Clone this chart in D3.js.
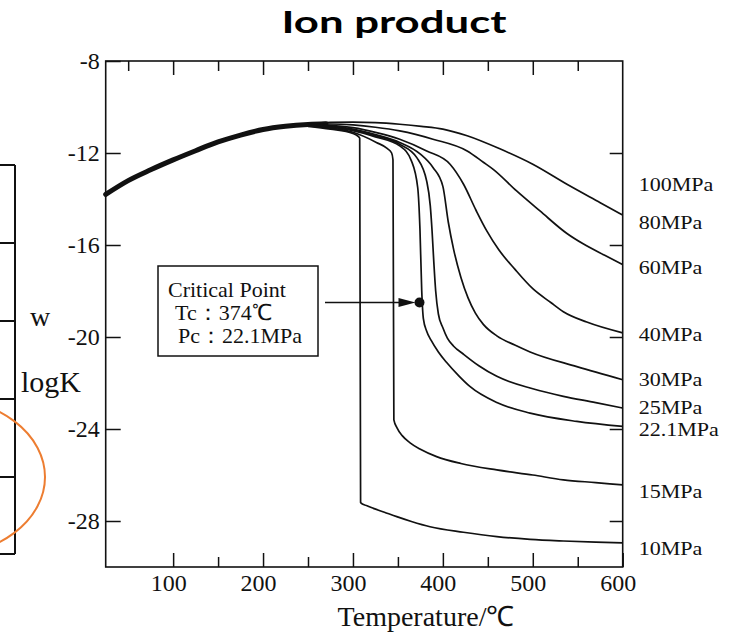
<!DOCTYPE html>
<html>
<head>
<meta charset="utf-8">
<script src="https://cdn.jsdelivr.net/npm/d3@7/dist/d3.min.js"></script>
<style>
  html, body { margin: 0; padding: 0; background: #fff; }
  svg { display: block; }
</style>
</head>
<body>
<svg id="chart" width="731" height="637"></svg>
<script>
// ---- data: log Kw of water vs temperature (°C) at several pressures ----

// low-temperature branch, common to every pressure
const sharedT    = [25, 50, 75, 100, 125, 150, 175, 200, 225, 250, 270];
const sharedLogK = [-13.8, -13.2, -12.73, -12.3, -11.9, -11.52, -11.22, -10.98, -10.84, -10.76, -10.73];

const t100 = [250, 275, 300, 325, 352, 376, 400, 427, 464, 500, 538, 575, 600];
const k100 = [-10.74, -10.67, -10.66, -10.68, -10.75, -10.84, -10.96, -11.25, -11.83, -12.49, -13.36, -14.16, -14.7];

const t60 = [250, 275, 300, 325, 352, 389, 427, 445, 456, 482, 508, 538, 556, 580, 600];
const k60 = [-10.76, -10.74, -10.78, -10.88, -11.04, -11.4, -11.91, -12.4, -12.71, -13.65, -14.52, -15.5, -15.95, -16.45, -16.85];

const t40 = [250, 275, 300, 325, 352, 382, 408, 423, 437, 449, 462, 480, 500, 520, 534, 560, 600];
const k40 = [-10.77, -10.8, -10.9, -11.1, -11.4, -11.91, -12.49, -13.36, -14.5, -15.4, -16.2, -17.05, -17.9, -18.5, -18.9, -19.35, -19.82];

const t30 = [250, 275, 300, 325, 352, 375, 389, 400, 406, 412, 420, 428, 436, 445, 460, 480, 497, 549, 600];
const k30 = [-10.78, -10.83, -10.96, -11.2, -11.54, -12.05, -12.63, -13.45, -15.0, -16.2, -17.4, -18.3, -18.95, -19.45, -19.95, -20.35, -20.65, -21.29, -21.86];

const t25 = [250, 275, 300, 325, 352, 371, 382, 386, 388, 390, 392, 395, 400, 405, 412, 423, 440, 460, 500, 534, 570, 600];
const k25 = [-10.79, -10.86, -11.0, -11.25, -11.62, -12.2, -13.22, -14.3, -15.4, -16.8, -18.0, -19.0, -19.6, -20.05, -20.4, -20.75, -21.25, -21.71, -22.25, -22.58, -22.85, -23.09];

const t221 = [250, 275, 300, 325, 352, 365, 372, 374.5, 376.5, 378.3, 382, 387, 395, 404, 418, 430, 460, 497, 549, 600];
const k221 = [-10.8, -10.88, -11.03, -11.3, -11.69, -12.34, -13.5, -15.3, -18.0, -19.2, -19.75, -20.15, -20.65, -21.1, -21.7, -22.15, -22.85, -23.31, -23.67, -23.89];

const t15 = [250, 275, 300, 326, 338, 343, 344.5, 345.5, 349, 355, 363.5, 375, 393, 420, 460, 500, 534, 570, 600];
const k15 = [-10.82, -10.92, -11.1, -11.54, -11.8, -12.0, -12.3, -23.6, -23.95, -24.3, -24.6, -24.88, -25.2, -25.5, -25.78, -26.0, -26.21, -26.33, -26.43];

const t10 = [250, 275, 300, 305, 307.5, 308.5, 315, 322.7, 335, 348.7, 365, 385.7, 422.8, 460, 497, 534, 570, 600];
const k10 = [-10.84, -10.96, -11.15, -11.25, -11.35, -27.2, -27.33, -27.45, -27.62, -27.81, -28.02, -28.25, -28.49, -28.68, -28.8, -28.87, -28.92, -28.95];

// right-hand pressure labels and the log K level each one sits at
const labelNames = ["100MPa", "80MPa", "60MPa", "40MPa", "30MPa", "25MPa", "22.1MPa", "15MPa", "10MPa"];
const labelLogK  = [-13.36, -15.03, -16.99, -19.9, -21.86, -23.05, -24.0, -26.72, -29.19];

// critical point of water
const criticalT = 374;
const criticalP = 22.1;
const criticalLogK = -18.5;

// axis ticks
const yTicks = [-8, -12, -16, -20, -24, -28];
const xLabelTicks = [100, 200, 300, 400, 500, 600];
const xMinorTicks = [150, 250, 350, 450, 550];
const xTopMajor = [100, 200, 300, 400, 500];
const xTopMinor = [50, 150, 250, 350, 450, 550];

// ---- drawing ----
const ink = "#111";
const serif = "'Liberation Serif', 'Times New Roman', serif";
const svg = d3.select("#chart");

const x = d3.scaleLinear().domain([25, 600]).range([105.7, 622.7]);
const y = d3.scaleLinear().domain([-30, -8]).range([567, 61]);
const [x0, x1] = x.range();
const [yb, yt] = y.range();

// title
svg.append("text")
  .attr("x", 394).attr("y", 33)
  .attr("text-anchor", "middle")
  .attr("font-family", "Lato, 'Open Sans', sans-serif")
  .attr("font-weight", 700)
  .attr("font-size", 30)
  .attr("textLength", 225)
  .attr("lengthAdjust", "spacingAndGlyphs")
  .attr("fill", "#000")
  .text("Ion product");

// neighbouring table edge and highlight at the left margin
const side = svg.append("g");
side.append("line").attr("x1", 15).attr("x2", 15).attr("y1", 165).attr("y2", 554)
  .attr("stroke", ink).attr("stroke-width", 2);
[165, 243, 321, 399, 477, 554].forEach(v => {
  side.append("line").attr("x1", 0).attr("x2", 15).attr("y1", v).attr("y2", v)
    .attr("stroke", ink).attr("stroke-width", 2);
});
side.append("ellipse")
  .attr("cx", -60).attr("cy", 477).attr("rx", 105).attr("ry", 79)
  .attr("fill", "none").attr("stroke", "#ED7D31").attr("stroke-width", 2);

// y-axis caption (log Kw)
svg.append("text").attr("x", 30).attr("y", 326)
  .attr("font-family", serif).attr("font-size", 28).attr("fill", ink).text("w");
svg.append("text").attr("x", 21).attr("y", 392)
  .attr("font-family", serif).attr("font-size", 30).attr("fill", ink).text("logK");

// frame
svg.append("rect")
  .attr("x", x0).attr("y", yt).attr("width", x1 - x0).attr("height", yb - yt)
  .attr("fill", "none").attr("stroke", ink).attr("stroke-width", 1.6);

function styleAxis(g, size) {
  g.select(".domain").remove();
  g.selectAll(".tick line").attr("stroke", ink).attr("stroke-width", 1.5);
  g.selectAll(".tick text").attr("fill", ink).attr("font-family", serif).attr("font-size", size);
  return g;
}
const noLabel = () => "";

// left axis with labels
styleAxis(svg.append("g").attr("transform", `translate(${x0},0)`)
  .call(d3.axisLeft(y).tickValues(yTicks).tickSize(-15).tickPadding(6).tickFormat(d => String(d))), 24);

// right axis ticks
styleAxis(svg.append("g").attr("transform", `translate(${x1},0)`)
  .call(d3.axisRight(y).tickValues(yTicks.slice(1)).tickSize(-13).tickFormat(noLabel)), 24);

// bottom axis with labels, plus minor ticks
const bottom = styleAxis(svg.append("g").attr("transform", `translate(0,${yb})`)
  .call(d3.axisBottom(x).tickValues(xLabelTicks).tickSize(-14).tickPadding(7).tickFormat(d => String(d))), 24);
bottom.selectAll(".tick text").attr("dx", -5);
styleAxis(svg.append("g").attr("transform", `translate(0,${yb})`)
  .call(d3.axisBottom(x).tickValues(xMinorTicks).tickSize(-10).tickFormat(noLabel)), 24);

// top axis ticks
styleAxis(svg.append("g").attr("transform", `translate(0,${yt})`)
  .call(d3.axisTop(x).tickValues(xTopMajor).tickSize(-14).tickFormat(noLabel)), 24);
styleAxis(svg.append("g").attr("transform", `translate(0,${yt})`)
  .call(d3.axisTop(x).tickValues(xTopMinor).tickSize(-10).tickFormat(noLabel)), 24);

// x-axis caption
svg.append("text").attr("x", 426).attr("y", 626)
  .attr("text-anchor", "middle")
  .attr("font-family", serif).attr("font-size", 28).attr("fill", ink)
  .text("Temperature/℃");

// curves
const line = d3.line()
  .x(d => x(d[0]))
  .y(d => y(d[1]))
  .curve(d3.curveMonotoneX);

const zipSeries = (ts, ks) => ts.map((t, i) => [t, ks[i]]);

const series = [
  zipSeries(t100, k100),
  zipSeries(t60, k60),
  zipSeries(t40, k40),
  zipSeries(t30, k30),
  zipSeries(t25, k25),
  zipSeries(t221, k221),
  zipSeries(t15, k15),
  zipSeries(t10, k10)
];

const plot = svg.append("g");

plot.append("path")
  .datum(zipSeries(sharedT, sharedLogK))
  .attr("d", line)
  .attr("fill", "none").attr("stroke", ink)
  .attr("stroke-width", 5).attr("stroke-linecap", "round");

plot.selectAll("path.isobar")
  .data(series)
  .join("path")
  .attr("class", "isobar")
  .attr("d", line)
  .attr("fill", "none").attr("stroke", ink)
  .attr("stroke-width", 1.7).attr("stroke-linejoin", "round");

// pressure labels, set slightly wide like the printed figure
svg.append("g").selectAll("text")
  .data(labelNames)
  .join("text")
  .attr("x", x1 + 16)
  .attr("y", (d, i) => y(labelLogK[i]))
  .attr("dy", "0.35em")
  .attr("font-family", serif).attr("font-size", 19).attr("fill", ink)
  .text(d => d)
  .each(function () {
    const w = this.getComputedTextLength();
    d3.select(this).attr("textLength", w * 1.16).attr("lengthAdjust", "spacingAndGlyphs");
  });

// critical point annotation
const note = svg.append("g");
note.append("rect")
  .attr("x", 158).attr("y", 266).attr("width", 160).attr("height", 90)
  .attr("fill", "#fff").attr("stroke", ink).attr("stroke-width", 1.5);
const noteLines = ["Critical Point", `Tc：${criticalT}℃`, `Pc：${criticalP}MPa`];
const noteX = [168, 175, 178];
note.selectAll("text.note")
  .data(noteLines)
  .join("text")
  .attr("class", "note")
  .attr("x", (d, i) => noteX[i])
  .attr("y", (d, i) => 297 + i * 23)
  .attr("font-family", serif).attr("font-size", 22).attr("fill", ink)
  .text(d => d);

const cx = x(criticalT), cy = y(criticalLogK);
const dotR = 5;
note.append("line")
  .attr("x1", 325).attr("x2", cx - dotR - 10)
  .attr("y1", cy).attr("y2", cy)
  .attr("stroke", ink).attr("stroke-width", 1.5);
note.append("path")
  .attr("d", `M${cx - dotR - 16},${cy - 4.5} L${cx - dotR + 1},${cy} L${cx - dotR - 16},${cy + 4.5} Z`)
  .attr("fill", ink);
note.append("circle")
  .attr("cx", cx).attr("cy", cy).attr("r", dotR)
  .attr("fill", ink);
</script>
</body>
</html>
